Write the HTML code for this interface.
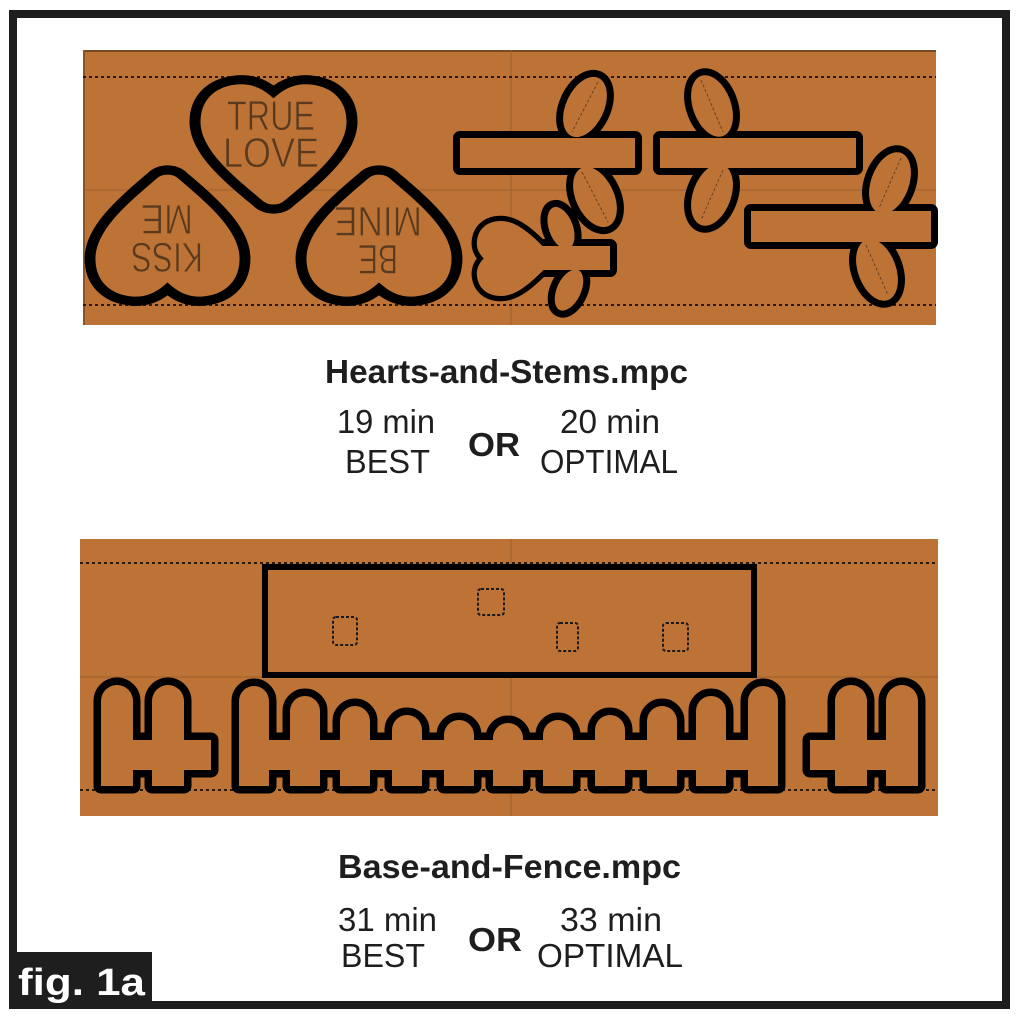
<!DOCTYPE html>
<html><head><meta charset="utf-8"><style>
html,body{margin:0;padding:0;background:#fff;}
svg{display:block;}
text{font-family:"Liberation Sans",Arial,sans-serif;}
</style></head><body>
<svg width="1024" height="1021" viewBox="0 0 1024 1021" xmlns="http://www.w3.org/2000/svg">
<defs>
<path id="heart" d="M50,9 C42,1 34,-1 26,0 C10,2 0,14 0,32 C0,55 22,76 40,94 C45,100 55,100 60,94 C78,76 100,55 100,32 C100,14 90,2 74,0 C66,-1 58,1 50,9 Z"/>
</defs>
<rect x="0" y="0" width="1024" height="1021" fill="#fff"/>
<rect x="13" y="14" width="993" height="991" fill="none" stroke="#1e1e1e" stroke-width="8"/>

<!-- TOP PANEL -->
<rect x="83" y="50" width="853" height="275" fill="#bd7335"/>
<line x1="83" y1="51" x2="936" y2="51" stroke="#7a4a22" stroke-width="2"/>
<line x1="84" y1="50" x2="84" y2="325" stroke="#8a5428" stroke-width="2"/>
<line x1="83" y1="190" x2="936" y2="190" stroke="#9a6030" stroke-width="1"/>
<line x1="511" y1="50" x2="511" y2="325" stroke="#9a6030" stroke-width="1"/>
<line x1="83" y1="77" x2="936" y2="77" stroke="#2a1a0a" stroke-width="2" stroke-dasharray="3,3"/>
<line x1="83" y1="305" x2="936" y2="305" stroke="#2a1a0a" stroke-width="2" stroke-dasharray="3,3"/>

<!-- hearts -->
<g fill="#bd7335" stroke="#000" stroke-width="7">
<use href="#heart" transform="translate(195,80) scale(1.57,1.31)" vector-effect="non-scaling-stroke"/>
<use href="#heart" transform="translate(90,301) scale(1.55,-1.33)" vector-effect="non-scaling-stroke"/>
<use href="#heart" transform="translate(301,301) scale(1.56,-1.33)" vector-effect="non-scaling-stroke"/>
</g>
<g fill="#5a3a1e" font-size="42" stroke="#bd7335" stroke-width="0.8">
<text x="227" y="130" textLength="88" lengthAdjust="spacingAndGlyphs">TRUE</text>
<text x="223" y="167" textLength="96" lengthAdjust="spacingAndGlyphs">LOVE</text>
<g transform="rotate(180 167 238)">
<text x="131" y="233" textLength="72" lengthAdjust="spacingAndGlyphs">KISS</text>
<text x="141" y="271" textLength="52" lengthAdjust="spacingAndGlyphs">ME</text>
</g>
<g transform="rotate(180 378 241)">
<text x="358" y="237" textLength="40" lengthAdjust="spacingAndGlyphs">BE</text>
<text x="334" y="275" textLength="88" lengthAdjust="spacingAndGlyphs">MINE</text>
</g>
</g>

<!-- stems -->
<g stroke="#000" stroke-width="14" fill="#000" stroke-linejoin="round">
<rect x="460" y="138" width="175" height="30"/>
<ellipse cx="585" cy="107" rx="19" ry="32" transform="rotate(25 585 107)"/>
<ellipse cx="595" cy="197" rx="19" ry="32" transform="rotate(-25 595 197)"/>
<rect x="660" y="138" width="196" height="30"/>
<ellipse cx="712" cy="106" rx="19" ry="32" transform="rotate(-20 712 106)"/>
<ellipse cx="712" cy="195" rx="19" ry="32" transform="rotate(20 712 195)"/>
<rect x="751" y="211" width="180" height="31"/>
<ellipse cx="890" cy="183" rx="19" ry="32" transform="rotate(20 890 183)"/>
<ellipse cx="877" cy="270" rx="19" ry="32" transform="rotate(-20 877 270)"/>
<rect x="540" y="246" width="70" height="24"/>
<ellipse cx="561" cy="228" rx="12" ry="22" transform="rotate(-20 561 228)"/>
<ellipse cx="569" cy="290" rx="12" ry="22" transform="rotate(25 569 290)"/>
<use href="#heart" transform="translate(477,296) rotate(-90) scale(0.75,0.75)"/>
</g>
<g fill="#bd7335">
<rect x="460" y="138" width="175" height="30"/>
<ellipse cx="585" cy="107" rx="19" ry="32" transform="rotate(25 585 107)"/>
<ellipse cx="595" cy="197" rx="19" ry="32" transform="rotate(-25 595 197)"/>
<rect x="660" y="138" width="196" height="30"/>
<ellipse cx="712" cy="106" rx="19" ry="32" transform="rotate(-20 712 106)"/>
<ellipse cx="712" cy="195" rx="19" ry="32" transform="rotate(20 712 195)"/>
<rect x="751" y="211" width="180" height="31"/>
<ellipse cx="890" cy="183" rx="19" ry="32" transform="rotate(20 890 183)"/>
<ellipse cx="877" cy="270" rx="19" ry="32" transform="rotate(-20 877 270)"/>
<rect x="540" y="246" width="70" height="24"/>
<ellipse cx="561" cy="228" rx="12" ry="22" transform="rotate(-20 561 228)"/>
<ellipse cx="569" cy="290" rx="12" ry="22" transform="rotate(25 569 290)"/>
<use href="#heart" transform="translate(477,296) rotate(-90) scale(0.75,0.75)"/>
</g>
<g stroke="#6a4020" stroke-width="1" stroke-dasharray="3,2">
<line x1="598" y1="82" x2="572" y2="132"/>
<line x1="582" y1="172" x2="608" y2="222"/>
<line x1="701" y1="80" x2="723" y2="132"/>
<line x1="723" y1="170" x2="701" y2="220"/>
<line x1="901" y1="158" x2="879" y2="208"/>
<line x1="866" y1="245" x2="888" y2="295"/>
</g>

<!-- TOP TEXT -->
<g fill="#1e1e1e" font-size="33">
<text x="325" y="383" font-weight="bold" textLength="363" lengthAdjust="spacingAndGlyphs">Hearts-and-Stems.mpc</text>
<text x="337" y="433" textLength="98" lengthAdjust="spacingAndGlyphs">19 min</text>
<text x="345" y="473" textLength="85" lengthAdjust="spacingAndGlyphs">BEST</text>
<text x="468" y="456" font-weight="bold" textLength="52" lengthAdjust="spacingAndGlyphs">OR</text>
<text x="560" y="433" textLength="100" lengthAdjust="spacingAndGlyphs">20 min</text>
<text x="540" y="473" textLength="138" lengthAdjust="spacingAndGlyphs">OPTIMAL</text>
</g>

<!-- BOTTOM PANEL -->
<rect x="80" y="539" width="858" height="277" fill="#bd7335"/>
<line x1="80" y1="677" x2="938" y2="677" stroke="#9a6030" stroke-width="1"/>
<line x1="511" y1="539" x2="511" y2="816" stroke="#9a6030" stroke-width="1"/>
<line x1="80" y1="563" x2="938" y2="563" stroke="#2a1a0a" stroke-width="2" stroke-dasharray="3,3"/>
<line x1="80" y1="790" x2="938" y2="790" stroke="#2a1a0a" stroke-width="2" stroke-dasharray="3,3"/>
<rect x="265" y="567" width="489" height="108" fill="#bd7335" stroke="#000" stroke-width="6"/>
<g fill="none" stroke="#1a1a1a" stroke-width="2" stroke-dasharray="3,2">
<rect x="333" y="617" width="24" height="28" rx="3"/>
<rect x="478" y="589" width="26" height="26" rx="3"/>
<rect x="557" y="623" width="21" height="28" rx="3"/>
<rect x="663" y="623" width="25" height="28" rx="3"/>
</g>

<!-- fence -->
<g stroke="#000" stroke-width="15" stroke-linejoin="round" fill="#000">
<path d="M101,786 V701 A16,16 0 0 1 133,701 V786 Z"/>
<path d="M152,786 V701 A16,16 0 0 1 184,701 V786 Z"/>
<rect x="101" y="740" width="110" height="30"/>
<path d="M239,786 V701 A15,15 0 0 1 269,701 V786 Z"/>
<path d="M290,786 V711 A15,15 0 0 1 320,711 V786 Z"/>
<path d="M340,786 V721 A15,15 0 0 1 370,721 V786 Z"/>
<path d="M392,786 V730 A15,15 0 0 1 422,730 V786 Z"/>
<path d="M444,786 V735 A15,15 0 0 1 474,735 V786 Z"/>
<path d="M493,786 V738 A15,15 0 0 1 523,738 V786 Z"/>
<path d="M543,786 V735 A15,15 0 0 1 573,735 V786 Z"/>
<path d="M595,786 V730 A15,15 0 0 1 625,730 V786 Z"/>
<path d="M647,786 V721 A15,15 0 0 1 677,721 V786 Z"/>
<path d="M696,786 V711 A15,15 0 0 1 726,711 V786 Z"/>
<path d="M748,786 V701 A15,15 0 0 1 778,701 V786 Z"/>
<rect x="241" y="740" width="535" height="30"/>
<path d="M835,786 V701 A16,16 0 0 1 867,701 V786 Z"/>
<path d="M886,786 V701 A16,16 0 0 1 918,701 V786 Z"/>
<rect x="810" y="740" width="90" height="30"/>
</g>
<g fill="#bd7335">
<path d="M101,786 V701 A16,16 0 0 1 133,701 V786 Z"/>
<path d="M152,786 V701 A16,16 0 0 1 184,701 V786 Z"/>
<rect x="101" y="740" width="110" height="30"/>
<path d="M239,786 V701 A15,15 0 0 1 269,701 V786 Z"/>
<path d="M290,786 V711 A15,15 0 0 1 320,711 V786 Z"/>
<path d="M340,786 V721 A15,15 0 0 1 370,721 V786 Z"/>
<path d="M392,786 V730 A15,15 0 0 1 422,730 V786 Z"/>
<path d="M444,786 V735 A15,15 0 0 1 474,735 V786 Z"/>
<path d="M493,786 V738 A15,15 0 0 1 523,738 V786 Z"/>
<path d="M543,786 V735 A15,15 0 0 1 573,735 V786 Z"/>
<path d="M595,786 V730 A15,15 0 0 1 625,730 V786 Z"/>
<path d="M647,786 V721 A15,15 0 0 1 677,721 V786 Z"/>
<path d="M696,786 V711 A15,15 0 0 1 726,711 V786 Z"/>
<path d="M748,786 V701 A15,15 0 0 1 778,701 V786 Z"/>
<rect x="241" y="740" width="535" height="30"/>
<path d="M835,786 V701 A16,16 0 0 1 867,701 V786 Z"/>
<path d="M886,786 V701 A16,16 0 0 1 918,701 V786 Z"/>
<rect x="810" y="740" width="90" height="30"/>
</g>

<!-- BOTTOM TEXT -->
<g fill="#1e1e1e" font-size="33">
<text x="338" y="878" font-weight="bold" textLength="343" lengthAdjust="spacingAndGlyphs">Base-and-Fence.mpc</text>
<text x="338" y="931" textLength="99" lengthAdjust="spacingAndGlyphs">31 min</text>
<text x="341" y="967" textLength="84" lengthAdjust="spacingAndGlyphs">BEST</text>
<text x="468" y="951" font-weight="bold" textLength="54" lengthAdjust="spacingAndGlyphs">OR</text>
<text x="560" y="931" textLength="102" lengthAdjust="spacingAndGlyphs">33 min</text>
<text x="537" y="967" textLength="146" lengthAdjust="spacingAndGlyphs">OPTIMAL</text>
</g>

<!-- fig label -->
<rect x="9" y="952" width="143" height="57" fill="#1e1e1e"/>
<text x="18" y="995" fill="#fff" font-size="38" font-weight="bold" textLength="127" lengthAdjust="spacingAndGlyphs">fig. 1a</text>
</svg>
</body></html>
